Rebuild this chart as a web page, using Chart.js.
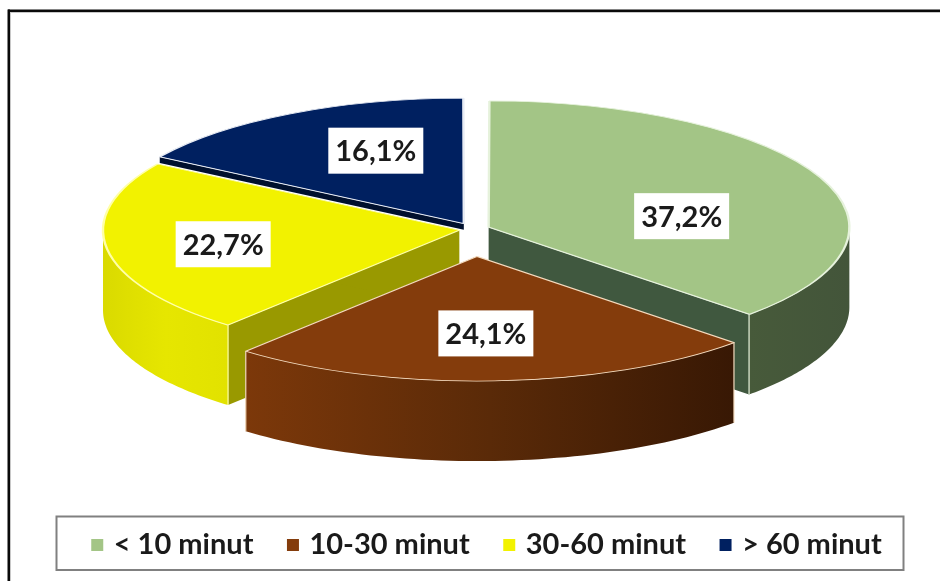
<!DOCTYPE html>
<html><head><meta charset="utf-8">
<style>html,body{margin:0;padding:0;background:#fff}canvas{display:block}</style>
<script src="https://cdn.jsdelivr.net/npm/chart.js@4/dist/chart.umd.min.js"></script>
</head><body>
<div style="width:940px;height:581px"><canvas id="c" width="940" height="581"></canvas></div>
<script>
const categories = ['< 10 minut', '10-30 minut', '30-60 minut', '> 60 minut'];
const shares = [37.2, 24.1, 22.7, 16.1];
const topColors = ['#A3C586', '#843C0C', '#F2F200', '#002060'];
const sliceOffsets = [68, 308, 56, 76];
const outerWallStops = [
  ['#475A3A', '#43553A'],
  ['#7C380A', '#5A2A08', '#381804'],
  ['#DADA00', '#E6E600', '#E2E200'],
  ['#00143C', '#00143C']
];
const cutWallColors = ['#40583F', '#5A2A08', '#999900', '#00102E'];
const edgeColors = ['#E6F2DC', '#F5DCC0', '#FFFFA8', '#E8ECF4'];
const labelShift = [[193, -11], [9, 77], [-236, 14], [-88, -73]];
const cutWallDepth = [80, 80, 80, 6];

const squash = 0.35, depth = 80, pieX = 473, pieY = 229.5;
const drawOrder = [3, 0, 2, 1];

function geometry(arc, opts) {
  const off = (opts.offset || 0) / 4;
  const half = (arc.startAngle + arc.endAngle) / 2;
  const fix = 1 - Math.sin(Math.min(Math.PI, arc.circumference));
  const vx = pieX + Math.cos(half) * off;
  const vy = pieY + Math.sin(half) * off * squash;
  const r = arc.outerRadius + off * fix;
  return {vx, vy, r, pt: a => [vx + Math.cos(a) * r, vy + Math.sin(a) * r * squash]};
}

const pie3d = {
  id: 'pie3d',
  beforeDraw(chart) {
    const ctx = chart.ctx;
    ctx.save();
    ctx.fillStyle = '#fff';
    ctx.fillRect(0, 0, chart.width, chart.height);
    ctx.fillStyle = '#C8C8C8';
    ctx.fillRect(10, 12, chart.width - 10, 1);
    ctx.fillRect(10, 12, 1, chart.height - 12);
    ctx.fillStyle = '#0A0A0A';
    ctx.fillRect(8, 9.5, chart.width - 8, 2.5);
    ctx.fillRect(7.5, 9.5, 2.5, chart.height - 9.5);
    ctx.strokeStyle = '#808080';
    ctx.lineWidth = 2;
    ctx.strokeRect(56.5, 516.5, 847, 53.5);
    ctx.restore();
  },
  beforeDatasetsDraw(chart) {
    const ctx = chart.ctx, meta = chart.getDatasetMeta(0);
    ctx.save();
    drawOrder.forEach(i => {
      const arc = meta.data[i], g = geometry(arc, arc.options);
      [arc.startAngle, arc.endAngle].forEach(a => {
        const p = g.pt(a), d = cutWallDepth[i];
        ctx.beginPath();
        ctx.moveTo(g.vx, g.vy); ctx.lineTo(p[0], p[1]); ctx.lineTo(p[0], p[1] + d); ctx.lineTo(g.vx, g.vy + d);
        ctx.closePath();
        ctx.fillStyle = cutWallColors[i];
        ctx.fill();
      });
      const a0 = Math.max(arc.startAngle, 0), a1 = Math.min(arc.endAngle, Math.PI);
      if (a1 > a0) {
        const left = g.pt(a1)[0], right = g.pt(a0)[0];
        const grad = ctx.createLinearGradient(left, 0, right, 0);
        const stops = outerWallStops[i];
        stops.forEach((c, n) => grad.addColorStop(n / (stops.length - 1), c));
        ctx.beginPath();
        for (let n = 0; n <= 60; n++) { const p = g.pt(a0 + (a1 - a0) * n / 60); n ? ctx.lineTo(p[0], p[1]) : ctx.moveTo(p[0], p[1]); }
        for (let n = 60; n >= 0; n--) { const p = g.pt(a0 + (a1 - a0) * n / 60); ctx.lineTo(p[0], p[1] + depth); }
        ctx.closePath();
        ctx.fillStyle = grad;
        ctx.fill();
        const corners = [];
        if (arc.startAngle > 0) corners.push(g.pt(arc.startAngle));
        if (arc.endAngle < Math.PI) corners.push(g.pt(arc.endAngle));
        ctx.strokeStyle = edgeColors[i];
        ctx.lineWidth = 1.2;
        corners.forEach(p => { ctx.beginPath(); ctx.moveTo(p[0], p[1]); ctx.lineTo(p[0], p[1] + depth); ctx.stroke(); });
      }
    });
    ctx.restore();
    const first = meta.data[0];
    ctx.save();
    ctx.translate(pieX, pieY);
    ctx.scale(1, squash);
    ctx.translate(-first.x, -first.y);
  },
  afterDatasetsDraw(chart) {
    const ctx = chart.ctx, meta = chart.getDatasetMeta(0);
    ctx.restore();
    ctx.save();
    ctx.font = 'bold 29px Lato, "Noto Sans", sans-serif';
    ctx.textAlign = 'center';
    ctx.textBaseline = 'middle';
    meta.data.forEach((arc, i) => {
      const g = geometry(arc, arc.options);
      const x = g.vx + labelShift[i][0], y = g.vy + labelShift[i][1];
      ctx.fillStyle = '#fff';
      ctx.fillRect(x - 47.5, y - 23, 95, 46);
      ctx.fillStyle = '#1a1a1a';
      ctx.fillText(shares[i].toFixed(1).replace('.', ',') + '%', x, y + 1);
    });
    ctx.restore();
  }
};

new Chart(document.getElementById('c'), {
  type: 'pie',
  data: {
    labels: categories,
    datasets: [{
      data: shares,
      backgroundColor: topColors,
      borderColor: edgeColors,
      borderWidth: 2.4,
      offset: sliceOffsets,
      clip: false
    }]
  },
  options: {
    responsive: false,
    animation: false,
    radius: 356,
    rotation: 0,
    layout: {padding: {left: 37, right: 0, top: 0, bottom: 11.5}},
    plugins: {
      tooltip: {enabled: false},
      legend: {
        position: 'bottom',
        labels: {
          boxWidth: 4,
          boxHeight: 4,
          padding: 37.5,
          color: '#1a1a1a',
          font: {family: 'Lato, "Noto Sans", sans-serif', size: 29, weight: 'bold'},
          generateLabels(chart) {
            return Chart.overrides.pie.plugins.legend.labels.generateLabels(chart)
              .map(l => ({...l, strokeStyle: l.fillStyle, lineWidth: 8}));
          }
        }
      }
    }
  },
  plugins: [pie3d]
});
</script>
</body></html>
